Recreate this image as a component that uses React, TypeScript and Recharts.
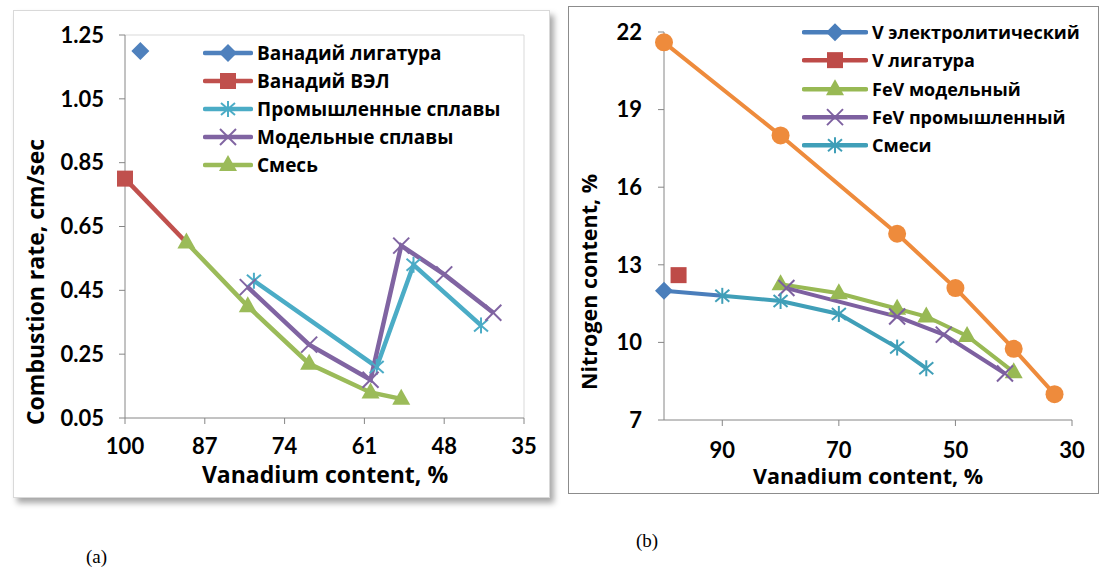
import React from "react";
import { Legend, Line, LineChart, ReferenceLine, XAxis, YAxis } from "recharts";

// (a) combustion rate vs vanadium content
const aLigaturaX = [97.5];
const aLigaturaY = [1.2];
const aVelX = [100, 90];
const aVelY = [0.8, 0.6];
const aPromX = [79, 59, 53, 42];
const aPromY = [0.48, 0.21, 0.53, 0.34];
const aModelX = [80, 70, 60, 55, 48, 40];
const aModelY = [0.46, 0.28, 0.17, 0.59, 0.5, 0.38];
const aMixX = [90, 80, 70, 60, 55];
const aMixY = [0.6, 0.4, 0.22, 0.13, 0.11];
const aXTicks = [100, 87, 74, 61, 48, 35];
const aYTicks = [0.05, 0.25, 0.45, 0.65, 0.85, 1.05, 1.25];

// (b) nitrogen content vs vanadium content
const bElectroX = [100, 90];
const bElectroY = [12, 11.8];
const bLigaturaX = [97.5];
const bLigaturaY = [12.6];
const bFevModelX = [80, 70, 60, 55, 48, 40];
const bFevModelY = [12.25, 11.9, 11.3, 11.0, 10.25, 8.85];
const bFevPromX = [79, 60, 52, 41.5];
const bFevPromY = [12.1, 11.0, 10.3, 8.8];
const bMixX = [90, 80, 70, 60, 55];
const bMixY = [11.8, 11.6, 11.1, 9.8, 9.0];
const bNitrideX = [100, 80, 60, 50, 40, 33];
const bNitrideY = [21.6, 18, 14.2, 12.1, 9.75, 8];
const bXTicks = [90, 70, 50, 30];
const bYTicks = [7, 10, 13, 16, 19, 22];

const FONT = "Lato, 'Open Sans', sans-serif";
const WIDE = "'Open Sans', Lato, sans-serif";
const AXIS = "#868686";

type Shape = "diamond" | "square" | "star" | "cross" | "triangle" | "circle";

const zip = (xs: number[], ys: number[]) => xs.map((x, i) => ({ x, y: ys[i] }));

function Marker({ shape, cx, cy, color }: { shape: Shape; cx: number; cy: number; color: string }) {
  switch (shape) {
    case "diamond":
      return <polygon points={`${cx},${cy - 9} ${cx + 9},${cy} ${cx},${cy + 9} ${cx - 9},${cy}`} fill={color} />;
    case "square":
      return <rect x={cx - 8} y={cy - 8} width={16} height={16} fill={color} />;
    case "star":
      return (
        <g stroke={color} strokeWidth={2}>
          <line x1={cx} y1={cy - 8} x2={cx} y2={cy + 8} />
          <line x1={cx - 7} y1={cy - 6} x2={cx + 7} y2={cy + 6} />
          <line x1={cx - 7} y1={cy + 6} x2={cx + 7} y2={cy - 6} />
        </g>
      );
    case "cross":
      return (
        <g stroke={color} strokeWidth={2}>
          <line x1={cx - 8} y1={cy - 8} x2={cx + 8} y2={cy + 8} />
          <line x1={cx - 8} y1={cy + 8} x2={cx + 8} y2={cy - 8} />
        </g>
      );
    case "triangle":
      return <polygon points={`${cx},${cy - 10} ${cx + 9},${cy + 6} ${cx - 9},${cy + 6}`} fill={color} />;
    default:
      return <circle cx={cx} cy={cy} r={9} fill={color} />;
  }
}

interface Series {
  name: string;
  color: string;
  shape: Shape;
  xs: number[];
  ys: number[];
  inLegend?: boolean;
  // only these points get a marker (the rest sit under another series)
  markAt?: number[];
}

const seriesA: Series[] = [
  { name: "Ванадий лигатура", color: "#4F81BD", shape: "diamond", xs: aLigaturaX, ys: aLigaturaY },
  { name: "Ванадий ВЭЛ", color: "#C0504D", shape: "square", xs: aVelX, ys: aVelY, markAt: [0] },
  { name: "Промышленные сплавы", color: "#4BACC6", shape: "star", xs: aPromX, ys: aPromY },
  { name: "Модельные сплавы", color: "#8064A2", shape: "cross", xs: aModelX, ys: aModelY },
  { name: "Смесь", color: "#9BBB59", shape: "triangle", xs: aMixX, ys: aMixY },
];

const seriesB: Series[] = [
  { name: "V электролитический", color: "#4A7EBB", shape: "diamond", xs: bElectroX, ys: bElectroY, markAt: [0] },
  { name: "V лигатура", color: "#BE4B48", shape: "square", xs: bLigaturaX, ys: bLigaturaY },
  { name: "FeV модельный", color: "#98B954", shape: "triangle", xs: bFevModelX, ys: bFevModelY },
  { name: "FeV промышленный", color: "#7D60A0", shape: "cross", xs: bFevPromX, ys: bFevPromY },
  { name: "Смеси", color: "#409FB8", shape: "star", xs: bMixX, ys: bMixY },
  { name: "Нитрид", color: "#EE8B3C", shape: "circle", xs: bNitrideX, ys: bNitrideY, inLegend: false },
];

function LegendList({ items, lineLen, rowH, fontSize }: { items: Series[]; lineLen: number; rowH: number; fontSize: number }) {
  return (
    <div style={{ fontFamily: WIDE, fontWeight: 700, fontSize, color: "#000" }}>
      {items
        .filter((s) => s.inLegend !== false)
        .map((s) => (
          <div key={s.name} style={{ display: "flex", alignItems: "center", height: rowH }}>
            <svg width={lineLen} height={rowH} style={{ flex: "none" }}>
              <line x1={2} y1={rowH / 2} x2={lineLen - 2} y2={rowH / 2} stroke={s.color} strokeWidth={4.5} strokeLinecap="round" />
              <Marker shape={s.shape} cx={lineLen / 2} cy={rowH / 2} color={s.color} />
            </svg>
            <span style={{ marginLeft: 4, whiteSpace: "nowrap", lineHeight: 1 }}>{s.name}</span>
          </div>
        ))}
    </div>
  );
}

function renderLines(list: Series[], width: number) {
  return list.map((s) => (
    <Line
      key={s.name}
      data={zip(s.xs, s.ys)}
      dataKey="y"
      name={s.name}
      type="linear"
      stroke={s.color}
      strokeWidth={width}
      activeDot={false}
      isAnimationActive={false}
      dot={(p: any) =>
        !s.markAt || s.markAt.includes(p.index) ? (
          <Marker key={`${s.name}-${p.index}`} shape={s.shape} cx={p.cx} cy={p.cy} color={s.color} />
        ) : (
          <g key={`${s.name}-${p.index}`} />
        )
      }
    />
  ));
}

const tickStyle = { fontFamily: FONT, fontWeight: 700, fontSize: 22, fill: "#000" };
const titleStyle = { fontFamily: WIDE, fontWeight: 700, fill: "#000" } as const;

function ChartA() {
  return (
    <LineChart width={560} height={500} margin={{ top: 35, right: 36, bottom: 0, left: 0 }}>
      <XAxis
        type="number"
        dataKey="x"
        domain={[35, 100]}
        reversed
        ticks={aXTicks}
        interval={0}
        height={82}
        tickSize={6}
        tickMargin={14}
        stroke={AXIS}
        tick={tickStyle}
        label={{
          content: () => (
            <text x={325} y={483} textAnchor="middle" fontSize={23} {...titleStyle}>
              Vanadium content, %
            </text>
          ),
        }}
      />
      <YAxis
        type="number"
        domain={[0.05, 1.25]}
        ticks={aYTicks}
        interval={0}
        width={125}
        tickSize={6}
        tickMargin={15}
        stroke={AXIS}
        tick={tickStyle}
        tickFormatter={(v: number) => v.toFixed(2)}
        label={{
          content: () => (
            <text x={44} y={282} transform="rotate(-90 44 282)" textAnchor="middle" fontSize={23} {...titleStyle}>
              Combustion rate, cm/sec
            </text>
          ),
        }}
      />
      <ReferenceLine y={1.25} stroke="#d9d9d9" />
      <ReferenceLine x={35} stroke="#d9d9d9" />
      {renderLines(seriesA, 4.5)}
      <Legend
        layout="vertical"
        align="center"
        verticalAlign="middle"
        wrapperStyle={{ left: 203, top: 39, width: 345 }}
        content={() => <LegendList items={seriesA} lineLen={50} rowH={28} fontSize={19} />}
      />
    </LineChart>
  );
}

function ChartB() {
  return (
    <LineChart width={546} height={500} margin={{ top: 32, right: 34, bottom: 0, left: 0 }}>
      <XAxis
        type="number"
        dataKey="x"
        domain={[30, 100]}
        reversed
        ticks={bXTicks}
        interval={0}
        height={80}
        tickSize={6}
        tickMargin={16}
        stroke={AXIS}
        tick={tickStyle}
        label={{
          content: () => (
            <text x={308} y={484} textAnchor="middle" fontSize={21.5} {...titleStyle}>
              Vanadium content, %
            </text>
          ),
        }}
      />
      <YAxis
        type="number"
        domain={[7, 22]}
        ticks={bYTicks}
        interval={0}
        width={104}
        tickSize={6}
        tickMargin={16}
        stroke={AXIS}
        tick={tickStyle}
        label={{
          content: () => (
            <text x={37} y={282} transform="rotate(-90 37 282)" textAnchor="middle" fontSize={21.5} {...titleStyle}>
              Nitrogen content, %
            </text>
          ),
        }}
      />
      {renderLines(seriesB, 4)}
      <Legend
        layout="vertical"
        align="center"
        verticalAlign="middle"
        wrapperStyle={{ left: 242, top: 18, width: 304 }}
        content={() => <LegendList items={seriesB} lineLen={66} rowH={28.3} fontSize={18} />}
      />
    </LineChart>
  );
}

export default function App() {
  return (
    <div style={{ position: "absolute", left: 0, top: 0, width: 1106, height: 573, background: "#fff", overflow: "hidden" }}>
      <div
        style={{
          position: "absolute",
          left: 13,
          top: 10,
          width: 535,
          height: 486,
          border: "1px solid #d9d9d9",
          boxShadow: "4px 5px 6px rgba(0,0,0,0.35)",
          background: "#fff",
        }}
      />
      <div style={{ position: "absolute", left: 568, top: 6, width: 529, height: 486, border: "1.5px solid #8c8c8c" }} />
      <div style={{ position: "absolute", left: 0, top: 0 }}>
        <ChartA />
      </div>
      <div style={{ position: "absolute", left: 560, top: 0 }}>
        <ChartB />
      </div>
      <div style={{ position: "absolute", left: 86, top: 546, fontFamily: "'Liberation Serif', serif", fontSize: 19 }}>(a)</div>
      <div style={{ position: "absolute", left: 636, top: 530, fontFamily: "'Liberation Serif', serif", fontSize: 19 }}>(b)</div>
    </div>
  );
}
